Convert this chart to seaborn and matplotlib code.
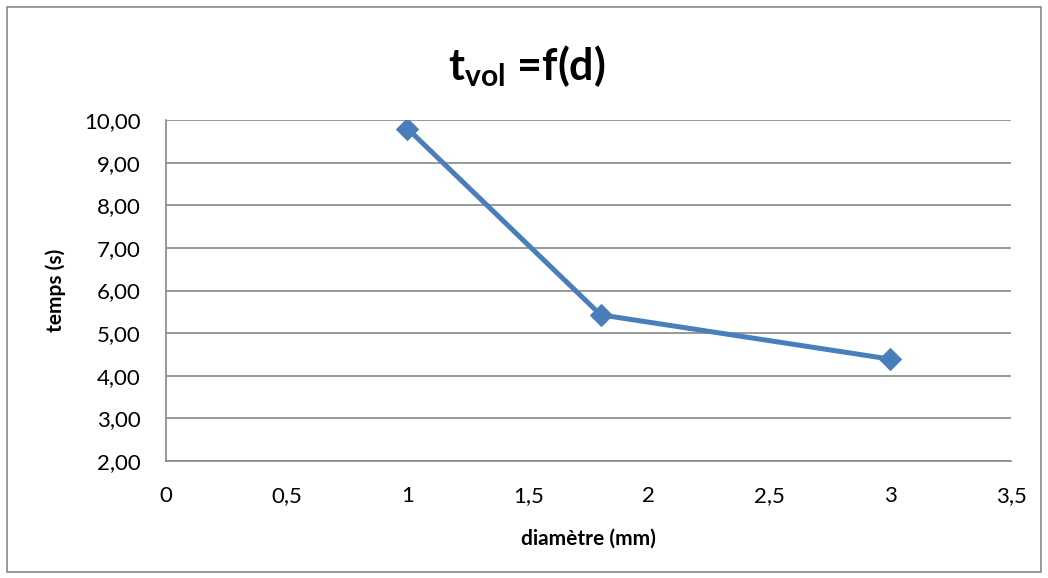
import numpy as np
import pandas as pd
import matplotlib
matplotlib.use("Agg")
import matplotlib.pyplot as plt
import seaborn as sns
from matplotlib.patches import Rectangle
from matplotlib.ticker import FuncFormatter, MultipleLocator

# data
diametre = [1.0, 1.8, 3.0]
temps = [9.80, 5.43, 4.39]

sns.set_style("white")
plt.rcParams['font.family'] = ['Lato', 'DejaVu Sans']
plt.rcParams['mathtext.fontset'] = 'custom'
plt.rcParams['mathtext.rm'] = 'Lato'
plt.rcParams['mathtext.bf'] = 'Lato:bold'
plt.rcParams['text.color'] = 'black'
plt.rcParams['axes.labelcolor'] = 'black'

df = pd.DataFrame({'diametre': diametre, 'temps': temps})

fig = plt.figure(figsize=(10.48, 5.78), dpi=100)
ax = fig.add_axes([0.1584, 0.2024, 0.9647 - 0.1584, 0.7924 - 0.2024])

grid_col = '#888888'
blue = '#4A7EBB'

sns.lineplot(data=df, x='diametre', y='temps', ax=ax, color=blue, linewidth=3.6,
             marker='D', markersize=11, markeredgecolor=blue, zorder=3)

ax.set_xlim(0, 3.5)
ax.set_ylim(2, 10)
ax.xaxis.set_major_locator(MultipleLocator(0.5))
ax.yaxis.set_major_locator(MultipleLocator(1))
ax.xaxis.set_major_formatter(FuncFormatter(lambda v, p: ('%g' % v).replace('.', ',')))
ax.yaxis.set_major_formatter(FuncFormatter(lambda v, p: ('%.2f' % v).replace('.', ',')))

ax.yaxis.grid(True, color=grid_col, linewidth=1.2)
ax.xaxis.grid(False)
for s in ['top', 'right']:
    ax.spines[s].set_visible(False)
for s in ['left', 'bottom']:
    ax.spines[s].set_color(grid_col)
    ax.spines[s].set_linewidth(1.2)

ax.tick_params(axis='both', which='major', direction='out', length=6, width=1.2,
               color=grid_col, labelsize=16, labelcolor='black')
ax.tick_params(axis='x', pad=12)
ax.tick_params(axis='y', pad=12)

ax.set_xlabel('diamètre (mm)', fontsize=15, fontweight='bold', labelpad=16)
ax.set_ylabel('temps (s)', fontsize=15, fontweight='bold', labelpad=13)

fig.text(0.503, 0.885, r'$\mathbf{t_{vol}}$ =f(d)', ha='center', va='center',
         fontsize=31, fontweight='bold')

# outer chart border
fig.patches.append(Rectangle((0.007, 0.01), 0.986, 0.978, transform=fig.transFigure,
                             fill=False, edgecolor=grid_col, linewidth=1.2))

plt.savefig('out.png', dpi=100)
